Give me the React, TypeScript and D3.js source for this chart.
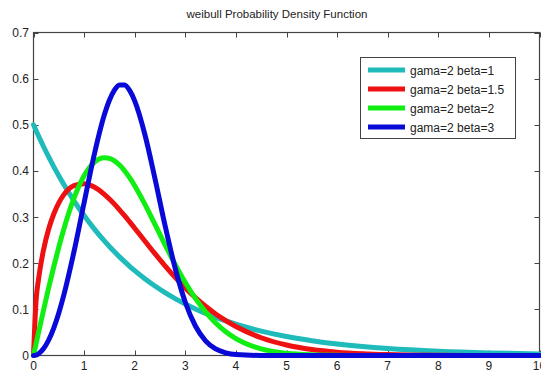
import React, { useEffect, useRef } from "react";
import * as d3 from "d3";

const xs = [0, 0.05, 0.1, 0.2, 0.3, 0.4, 0.5, 0.6, 0.8, 1.0, 1.2, 1.4, 1.5, 1.6, 1.7, 1.8, 1.9, 2.0, 2.2, 2.4, 2.6, 2.8, 3.0, 3.2, 3.4, 3.6, 3.8, 4.0, 4.5, 5, 5.5, 6, 6.5, 7, 8, 9, 10];

const beta1 = [0.5, 0.4877, 0.4756, 0.4524, 0.4304, 0.4094, 0.3894, 0.3704, 0.3352, 0.3033, 0.2744, 0.2483, 0.2362, 0.2247, 0.2137, 0.2033, 0.1934, 0.1839, 0.1665, 0.1506, 0.1363, 0.1233, 0.1116, 0.1009, 0.0913, 0.0826, 0.0748, 0.0677, 0.0527, 0.041, 0.032, 0.0249, 0.0194, 0.0151, 0.0092, 0.0056, 0.0034];
const beta15 = [0, 0.1181, 0.1658, 0.2298, 0.2741, 0.3067, 0.3309, 0.3486, 0.3683, 0.3724, 0.365, 0.3493, 0.3392, 0.328, 0.3158, 0.303, 0.2896, 0.2759, 0.2482, 0.2207, 0.1943, 0.1693, 0.1463, 0.1253, 0.1066, 0.0899, 0.0754, 0.0627, 0.0385, 0.0228, 0.013, 0.0072, 0.0039, 0.002, 0.0005, 0.0001, 0];
const beta2 = [0, 0.025, 0.0499, 0.099, 0.1467, 0.1922, 0.2348, 0.2742, 0.3409, 0.3894, 0.4186, 0.4288, 0.4273, 0.4218, 0.4127, 0.4004, 0.3853, 0.3679, 0.328, 0.2843, 0.2399, 0.1972, 0.1581, 0.1237, 0.0945, 0.0705, 0.0514, 0.0366, 0.0142, 0.0048, 0.0014, 0.0004, 0.0001, 0, 0, 0, 0];
const beta3 = [0, 0.0009, 0.0038, 0.015, 0.0336, 0.0595, 0.0923, 0.1314, 0.2251, 0.3309, 0.4351, 0.5216, 0.5533, 0.5753, 0.5864, 0.5861, 0.5744, 0.5518, 0.4795, 0.3836, 0.2816, 0.1891, 0.1155, 0.0639, 0.0319, 0.0142, 0.0057, 0.002, 0.0001, 0, 0, 0, 0, 0, 0, 0, 0];

const seriesNames = ["gama=2 beta=1", "gama=2 beta=1.5", "gama=2 beta=2", "gama=2 beta=3"];
const seriesColors = ["#1fbaba", "#ee1111", "#11ee11", "#0a0ad8"];
const seriesValues = [beta1, beta15, beta2, beta3];

const xTicks = [0, 1, 2, 3, 4, 5, 6, 7, 8, 9, 10];
const yTicks = [0, 0.1, 0.2, 0.3, 0.4, 0.5, 0.6, 0.7];
const title = "weibull Probability Density Function";

const W = 541, H = 373;
const L = 33.5, R = 539.5, T = 32.5, B = 355.5;

export default function App() {
  const ref = useRef<SVGSVGElement>(null);
  useEffect(() => {
    document.body.style.margin = "0";
    const svg = d3.select(ref.current);
    svg.selectAll("*").remove();
    const x = d3.scaleLinear().domain([0, 10]).range([L, R]);
    const y = d3.scaleLinear().domain([0, 0.7]).range([B, T]);
    const font = "Liberation Sans, Arial, sans-serif";
    const axisColor = "#444";

    svg.append("rect").attr("width", W).attr("height", H).attr("fill", "#fff");

    // title
    svg.append("text").attr("x", 277).attr("y", 18).attr("text-anchor", "middle")
      .attr("font-family", font).attr("font-size", 11.5).attr("fill", "#222").text(title);

    // box
    svg.append("rect").attr("x", L).attr("y", T).attr("width", R - L).attr("height", B - T)
      .attr("fill", "none").attr("stroke", axisColor).attr("stroke-width", 1.2);

    // ticks
    const g = svg.append("g").attr("stroke", axisColor).attr("stroke-width", 1);
    xTicks.forEach(t => {
      const px = Math.round(x(t)) + 0.5;
      g.append("line").attr("x1", px).attr("x2", px).attr("y1", B).attr("y2", B - 5);
      g.append("line").attr("x1", px).attr("x2", px).attr("y1", T).attr("y2", T + 5);
    });
    yTicks.forEach(t => {
      const py = Math.round(y(t)) + 0.5;
      g.append("line").attr("x1", L).attr("x2", L + 5).attr("y1", py).attr("y2", py);
      g.append("line").attr("x1", R).attr("x2", R - 5).attr("y1", py).attr("y2", py);
    });

    // tick labels
    xTicks.forEach(t => {
      svg.append("text").attr("x", x(t)).attr("y", 370).attr("text-anchor", "middle")
        .attr("font-family", font).attr("font-size", 12).attr("fill", "#222").text(String(t));
    });
    yTicks.forEach(t => {
      svg.append("text").attr("x", 29).attr("y", y(t) + 4.5).attr("text-anchor", "end")
        .attr("font-family", font).attr("font-size", 12).attr("fill", "#222").text(String(t));
    });

    // lines
    const line = d3.line<number>()
      .x((_, i) => x(xs[i]))
      .y(d => y(d))
      .curve(d3.curveMonotoneX);
    seriesValues.forEach((vals, k) => {
      svg.append("path").attr("d", line(vals) as string).attr("fill", "none")
        .attr("stroke", seriesColors[k]).attr("stroke-width", 5)
        .attr("stroke-linejoin", "round").attr("stroke-linecap", "round");
    });

    // legend
    const lg = svg.append("g");
    lg.append("rect").attr("x", 360.5).attr("y", 57.5).attr("width", 155).attr("height", 81)
      .attr("fill", "#fff").attr("stroke", axisColor).attr("stroke-width", 1);
    seriesNames.forEach((name, k) => {
      const cy = 70 + k * 19;
      lg.append("line").attr("x1", 368).attr("x2", 405).attr("y1", cy).attr("y2", cy)
        .attr("stroke", seriesColors[k]).attr("stroke-width", 5);
      lg.append("text").attr("x", 410).attr("y", cy + 4.5).attr("font-family", font)
        .attr("font-size", 12).attr("fill", "#222").text(name);
    });
  }, []);
  return <svg ref={ref} width={W} height={H} style={{ display: "block" }} />;
}
